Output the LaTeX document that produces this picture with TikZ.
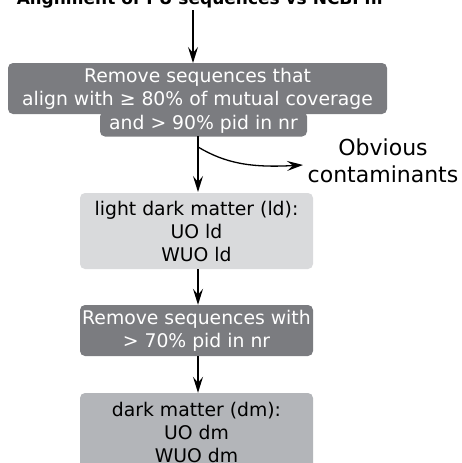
\documentclass[tikz,border=0pt]{standalone}
\usepackage{fontspec}
\setmainfont{DejaVu Sans}
\usetikzlibrary{arrows.meta}
\definecolor{darkbox}{HTML}{7B7C80}
\definecolor{lightbox}{HTML}{D9DADC}
\definecolor{midbox}{HTML}{B3B5B9}
\tikzset{
  boxtext/.style={font=\fontsize{18.8}{23}\selectfont, align=center, inner sep=0pt, rounded corners=5pt},
  darkstep/.style={boxtext, fill=darkbox, text=white},
  lightstep/.style={boxtext, fill=lightbox, text=black},
  midstep/.style={boxtext, fill=midbox, text=black},
  flow/.style={line width=1.3pt, -{Stealth[length=16pt,width=10pt,inset=6pt]}},
}
\begin{document}
\begin{tikzpicture}[x=1pt,y=-1pt]
\useasboundingbox (0,0) rectangle (461,463);
\node[anchor=base, font=\fontsize{17}{20}\selectfont\bfseries] (title) at (201,4.5) {Alignment of PU sequences vs NCBI nr};
\node[darkstep, minimum width=379pt, minimum height=51pt] (b1) at (197.5,88.5) {Remove sequences that\\align with ≥ 80\% of mutual coverage};
\node[darkstep, minimum width=207pt, minimum height=25pt] (b1low) at (203.5,124) {and > 90\% pid in nr};
\node[lightstep, minimum width=233pt, minimum height=76pt] (b2) at (196.5,231) {light dark matter (ld):\\UO ld\\WUO ld};
\node[darkstep, minimum width=233pt, minimum height=51pt] (b3) at (196.5,330.5) {Remove sequences with\\> 70\% pid in nr};
\node[midstep, minimum width=233pt, minimum height=78pt] (b4) at (196.5,432) {dark matter (dm):\\UO dm\\WUO dm};
\node[font=\fontsize{22}{27}\selectfont, align=center, inner sep=0pt] (contam) at (383,160.5) {Obvious\\contaminants};
\coordinate (t0) at (193,10);
\coordinate (t1) at (193,63);
\draw[flow] (t0) -- (t1);
\coordinate (a2s) at (198,136);
\coordinate (a2e) at (198,192);
\draw[flow] (a2s) -- (a2e);
\coordinate (br) at (198,147);
\coordinate (brend) at (303,165);
\draw[flow] (br) .. controls (225,163) and (250,168) .. (brend);
\draw[flow] (b2.south -| a2s) -- (b3.north -| a2s);
\draw[flow] (b3.south -| a2s) -- (b4.north -| a2s);
\end{tikzpicture}
\end{document}
